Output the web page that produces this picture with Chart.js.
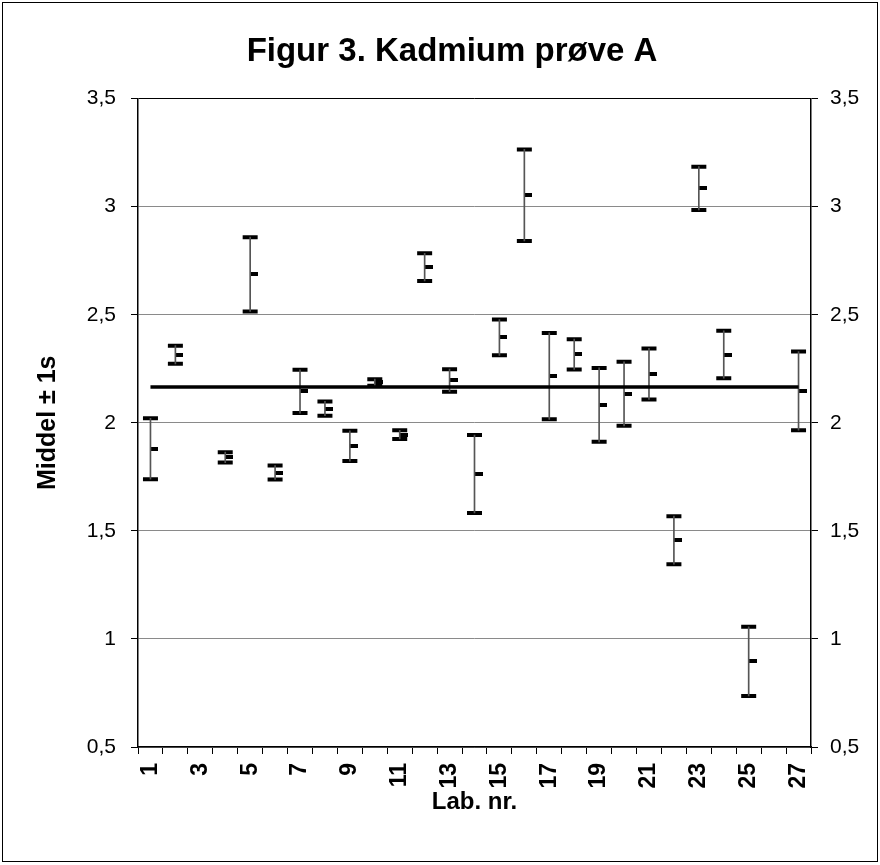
<!DOCTYPE html>
<html>
<head>
	<meta charset="utf-8">
	<title>Figur 3. Kadmium prøve A</title>
	<script src="https://cdn.jsdelivr.net/npm/chart.js"></script>
	<style>
		body { margin: 0; background: #fff; }
		.grafico { width: 880px; height: 865px; }
	</style>
</head>
<body>
	<div class="grafico">
		<canvas id="miGrafico"></canvas>
	</div>
	<script>
		// Lab. nr. 1..27 (lab 3 og 26 uten resultat)
		const labNr = ['1','2','3','4','5','6','7','8','9','10','11','12','13','14','15','16','17','18','19','20','21','22','23','24','25','26','27'];
		const middel = [1.88, 2.315, null, 1.84, 2.687, 1.77, 2.145, 2.066, 1.893, 2.187, 1.945, 2.72, 2.196, 1.763, 2.395, 3.053, 2.216, 2.317, 2.083, 2.134, 2.226, 1.457, 3.085, 2.316, 0.896, null, 2.148];
		const s = [0.141, 0.042, null, 0.024, 0.172, 0.032, 0.1, 0.033, 0.07, 0.015, 0.02, 0.064, 0.052, 0.18, 0.083, 0.212, 0.2, 0.07, 0.171, 0.148, 0.118, 0.111, 0.1, 0.11, 0.16, null, 0.182];
		const totalMiddel = 2.166;
		const yMin = 0.5;
		const yMax = 3.5;
		const yStep = 0.5;

		const ovre = middel.map((m, i) => m === null ? null : m + s[i]);
		const nedre = middel.map((m, i) => m === null ? null : m - s[i]);

		// liten strek til høyre for linja = middelverdi
		const merke = document.createElement('canvas');
		merke.width = 16;
		merke.height = 4;
		const mctx = merke.getContext('2d');
		mctx.fillStyle = '#000';
		mctx.fillRect(8, 0, 8, 4);

		const ramme = {
			id: 'ramme',
			afterDraw(chart) {
				const c = chart.ctx;
				c.save();
				c.strokeStyle = '#000';
				c.lineWidth = 1;
				c.strokeRect(2.5, 2.5, chart.width - 5, chart.height - 6);
				c.restore();
			}
		};

		const fontFam = "'Liberation Sans', Arial, sans-serif";
		const tekstKomma = v => String(v).replace('.', ',');

		const ctx = document.getElementById('miGrafico').getContext('2d');
		new Chart(ctx, {
			type: 'bar',
			data: {
				labels: labNr,
				datasets: [
					{
						type: 'line',
						data: labNr.map(() => totalMiddel),
						borderColor: '#000',
						borderWidth: 3.5,
						pointRadius: 0,
						yAxisID: 'y'
					},
					{
						type: 'bar',
						data: middel.map((m, i) => m === null ? null : [nedre[i], ovre[i]]),
						backgroundColor: '#555',
						barThickness: 1,
						yAxisID: 'y'
					},
					{
						type: 'line',
						data: ovre,
						showLine: false,
						pointStyle: 'line',
						pointRadius: 7.5,
						pointBorderWidth: 4,
						pointBorderColor: '#000',
						yAxisID: 'y'
					},
					{
						type: 'line',
						data: nedre,
						showLine: false,
						pointStyle: 'line',
						pointRadius: 7.5,
						pointBorderWidth: 4,
						pointBorderColor: '#000',
						yAxisID: 'y'
					},
					{
						type: 'line',
						data: middel,
						showLine: false,
						pointStyle: merke,
						yAxisID: 'y'
					}
				]
			},
			options: {
				responsive: true,
				maintainAspectRatio: false,
				animation: false,
				layout: { padding: { top: 18, left: 24, right: 0, bottom: 48 } },
				plugins: {
					legend: { display: false },
					tooltip: { enabled: false },
					title: {
						display: true,
						text: 'Figur 3. Kadmium prøve A',
						color: '#000',
						font: { family: fontFam, size: 33, weight: 'bold', lineHeight: 1.2 },
						padding: { top: 14, bottom: 27 }
					}
				},
				scales: {
					x: {
						offset: true,
						grid: { offset: true, drawOnChartArea: false, drawTicks: true, tickLength: 7, tickColor: '#000' },
						border: { color: '#000', width: 1.5 },
						ticks: {
							autoSkip: false,
							minRotation: 90,
							maxRotation: 90,
							padding: 9,
							color: '#000',
							font: { family: fontFam, size: 23, weight: 'bold' },
							callback: (v, i) => i % 2 === 0 ? labNr[i] : ''
						},
						title: {
							display: true,
							text: 'Lab. nr.',
							color: '#000',
							font: { family: fontFam, size: 24, weight: 'bold', lineHeight: 1.2 },
							padding: { top: 0, bottom: 0 }
						},
						afterFit: scale => { scale.height = 70; }
					},
					y: {
						position: 'left',
						min: yMin,
						max: yMax,
						grid: {
							color: c => c.tick && c.tick.value === yMax ? '#000' : '#8a8a8a',
							tickLength: 7,
							tickColor: '#000'
						},
						border: { color: '#000', width: 1.5 },
						ticks: {
							stepSize: yStep,
							padding: 15,
							color: '#000',
							font: { family: fontFam, size: 21 },
							callback: tekstKomma
						},
						title: {
							display: true,
							text: 'Middel ± 1s',
							color: '#000',
							font: { family: fontFam, size: 25, weight: 'bold', lineHeight: 1.2 },
							padding: { top: 9, bottom: 0 }
						},
						afterFit: scale => { scale.width = 114; }
					},
					y2: {
						position: 'right',
						min: yMin,
						max: yMax,
						grid: { drawOnChartArea: false, tickLength: 7, tickColor: '#000' },
						border: { color: '#000', width: 1.5 },
						ticks: {
							stepSize: yStep,
							padding: 12,
							color: '#000',
							font: { family: fontFam, size: 21 },
							callback: tekstKomma
						},
						afterFit: scale => { scale.width = 69; }
					}
				}
			},
			plugins: [ramme]
		});
	</script>
</body>
</html>
